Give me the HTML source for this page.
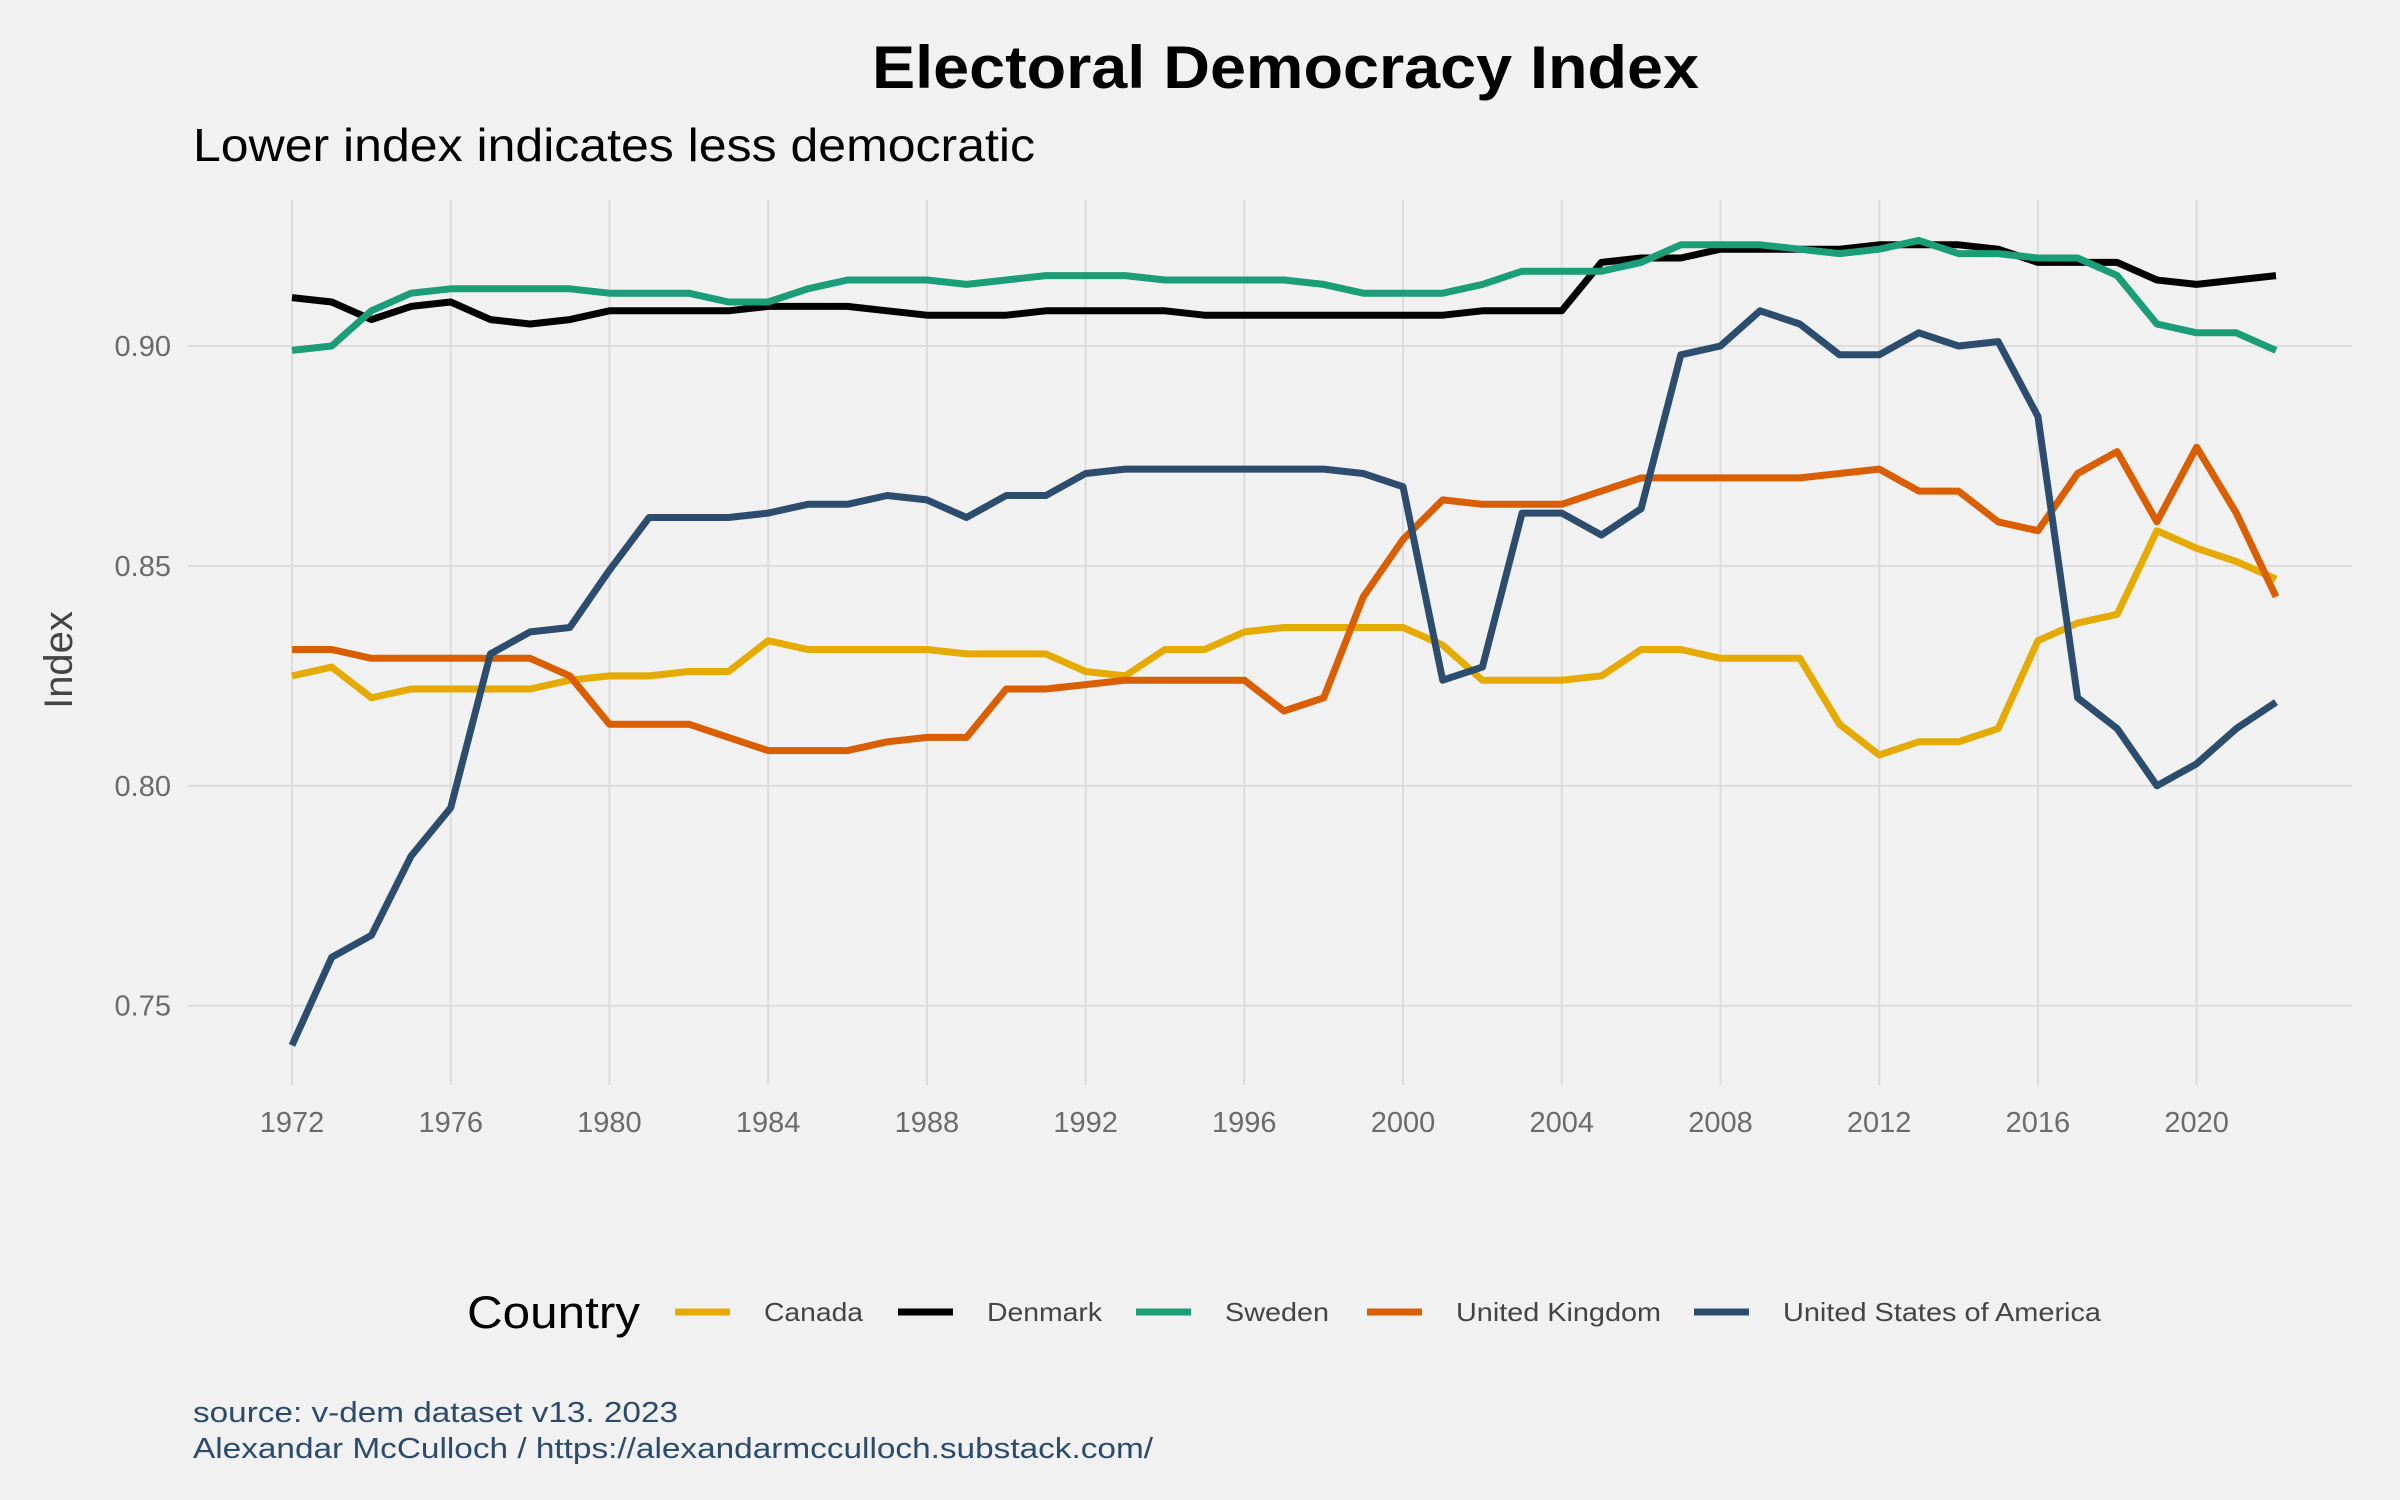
<!DOCTYPE html>
<html><head><meta charset="utf-8"><style>
html,body{margin:0;padding:0;background:#f1f1f1;}
svg{display:block;font-family:"Liberation Sans",sans-serif;}
</style></head><body>
<svg id="chart" width="2400" height="1500" viewBox="0 0 2400 1500" xmlns="http://www.w3.org/2000/svg">
<rect width="2400" height="1500" fill="#f1f1f1"/>
<text x="872" y="88" font-size="60" font-weight="bold" textLength="827" lengthAdjust="spacingAndGlyphs">Electoral Democracy Index</text>
<text x="193" y="161" font-size="46" textLength="842" lengthAdjust="spacingAndGlyphs">Lower index indicates less democratic</text>
<g id="grid"></g>
<g id="yticks"></g>
<g id="xticks"></g>
<text transform="translate(72,660) rotate(-90)" text-anchor="middle" font-size="40" fill="#444">Index</text>
<g id="series"></g>
<g id="legend">
<text x="467" y="1328" font-size="45" fill="#000" textLength="173" lengthAdjust="spacingAndGlyphs">Country</text>
</g>
<text x="193" y="1422" font-size="29" fill="#2c4a6b" textLength="485" lengthAdjust="spacingAndGlyphs">source: v-dem dataset v13. 2023</text>
<text x="193" y="1458" font-size="29" fill="#2c4a6b" textLength="960" lengthAdjust="spacingAndGlyphs">Alexandar McCulloch / https://alexandarmcculloch.substack.com/</text>
</svg>
<script>
const years = [];
for (let y = 1972; y <= 2022; y++) years.push(y);
const canada = [.825,.827,.820,.822,.822,.822,.822,.824,.825,.825,.826,.826,.833,.831,.831,.831,.831,.830,.830,.830,.826,.825,.831,.831,.835,.836,.836,.836,.836,.832,.824,.824,.824,.825,.831,.831,.829,.829,.829,.814,.807,.810,.810,.813,.833,.837,.839,.858,.854,.851,.847];
const denmark = [.911,.910,.906,.909,.910,.906,.905,.906,.908,.908,.908,.908,.909,.909,.909,.908,.907,.907,.907,.908,.908,.908,.908,.907,.907,.907,.907,.907,.907,.907,.908,.908,.908,.919,.920,.920,.922,.922,.922,.922,.923,.923,.923,.922,.919,.919,.919,.915,.914,.915,.916];
const sweden = [.899,.900,.908,.912,.913,.913,.913,.913,.912,.912,.912,.910,.910,.913,.915,.915,.915,.914,.915,.916,.916,.916,.915,.915,.915,.915,.914,.912,.912,.912,.914,.917,.917,.917,.919,.923,.923,.923,.922,.921,.922,.924,.921,.921,.920,.920,.916,.905,.903,.903,.899];
const uk = [.831,.831,.829,.829,.829,.829,.829,.825,.814,.814,.814,.811,.808,.808,.808,.810,.811,.811,.822,.822,.823,.824,.824,.824,.824,.817,.820,.843,.856,.865,.864,.864,.864,.867,.870,.870,.870,.870,.870,.871,.872,.867,.867,.860,.858,.871,.876,.860,.877,.862,.843];
const usa = [.741,.761,.766,.784,.795,.830,.835,.836,.849,.861,.861,.861,.862,.864,.864,.866,.865,.861,.866,.866,.871,.872,.872,.872,.872,.872,.872,.871,.868,.824,.827,.862,.862,.857,.863,.898,.900,.908,.905,.898,.898,.903,.900,.901,.884,.820,.813,.800,.805,.813,.819];
const seriesNames = ["Canada","Denmark","Sweden","United Kingdom","United States of America"];
const seriesValues = [canada, denmark, sweden, uk, usa];
const yTicks = [0.75, 0.80, 0.85, 0.90];
const yTickLabels = ["0.75","0.80","0.85","0.90"];
const xTicks = [1972,1976,1980,1984,1988,1992,1996,2000,2004,2008,2012,2016,2020];

const colors = ["#e6ab02","#000000","#1b9e77","#d95f02","#2c4d6e"];
const legendKeyX = [675, 898, 1136, 1367, 1694];
const legendTextW = [99, 115, 104, 205, 318];
const NS = "http://www.w3.org/2000/svg";
const X0 = 188, X1 = 2352, Y0 = 200, Y1 = 1085;
function xs(yr){ return 292 + (yr - 1972) * (2196.6 - 292) / 48; }
function ys(v){ return 346 + (0.90 - v) * (1005.7 - 346) / 0.15; }
function mk(tag, attrs, parent){ const e = document.createElementNS(NS, tag); for (const k in attrs) e.setAttribute(k, attrs[k]); parent.appendChild(e); return e; }

const grid = document.getElementById('grid');
yTicks.forEach((t,i) => {
  const l = mk('line', {x1:X0, x2:X1, y1:ys(t), y2:ys(t), stroke:'#dcdcdc', 'stroke-width':2}, grid);
  
  
  const tx = mk('text', {x:171, y:ys(t)+10, 'text-anchor':'end', 'font-size':29, fill:'#6b6b6b'}, document.getElementById('yticks'));
  tx.textContent = yTickLabels[i];
  
  
});
xTicks.forEach(t => {
  const l = mk('line', {x1:xs(t), x2:xs(t), y1:Y0, y2:Y1, stroke:'#dcdcdc', 'stroke-width':2}, grid);
  
  
  const tx = mk('text', {x:xs(t), y:1132, 'text-anchor':'middle', 'font-size':29, fill:'#6b6b6b'}, document.getElementById('xticks'));
  tx.textContent = String(t);
  
  
});
const sg = document.getElementById('series');
const lg = document.getElementById('legend');
seriesValues.forEach((vals, i) => {
  const pts = vals.map((v, j) => xs(years[j]).toFixed(1) + ',' + ys(v).toFixed(1)).join(' ');
  const p = mk('polyline', {points:pts, fill:'none', stroke:colors[i], 'stroke-width':7, 'stroke-linejoin':'round'}, sg);
  
  
  const k = mk('line', {x1:legendKeyX[i], x2:legendKeyX[i]+55, y1:1312, y2:1312, stroke:colors[i], 'stroke-width':7}, lg);
  
  
  const t = mk('text', {x:legendKeyX[i]+89, y:1321, 'font-size':26, fill:'#444', textLength:legendTextW[i], lengthAdjust:'spacingAndGlyphs'}, lg);
  t.textContent = seriesNames[i];
  
  
});
</script>
</body></html>
